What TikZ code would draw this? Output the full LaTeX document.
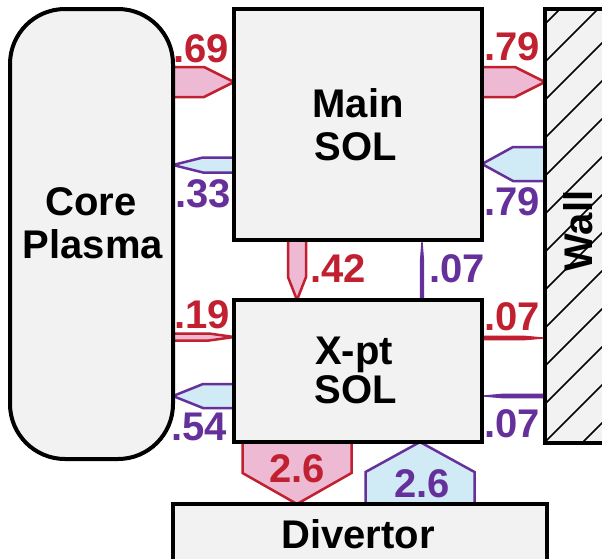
\documentclass[tikz,border=0pt]{standalone}
\usepackage{fontspec}
\setmainfont{Liberation Sans}
\usetikzlibrary{calc}
\definecolor{redc}{HTML}{C0202F}
\definecolor{pinkf}{HTML}{EDB9D3}
\definecolor{purc}{HTML}{66309A}
\definecolor{cyanf}{HTML}{D0EAF6}
\definecolor{boxf}{HTML}{F2F2F2}
\pgfdeclarelayer{bg}
\pgfsetlayers{bg,main}
% style, from, to, half width, tip length
\newcommand\blockarrow[5]{%
  \coordinate (ba-s) at ($(#3)!#5!(#2)$);
  \draw[#1] ($(#2)!#4!90:(#3)$) -- ($(ba-s)!#4!90:(#3)$) -- (#3)
    -- ($(ba-s)!#4!-90:(#3)$) -- ($(#2)!#4!-90:(#3)$) -- cycle;}
\begin{document}
\begin{tikzpicture}[x=1pt,y=-1pt,
  box/.style={draw, line width=4pt, fill=boxf, inner sep=0pt, outer sep=0pt},
  txt/.style={font=\fontsize{40}{44}\selectfont\bfseries, inner sep=0pt, anchor=base},
  rtxt/.style={txt, text=redc},
  ptxt/.style={txt, text=purc},
  outarr/.style={draw=redc, fill=pinkf, line width=2.5pt, line join=miter},
  inarr/.style={draw=purc, fill=cyanf, line width=2.5pt, line join=miter},
  outline/.style={draw=redc, fill=redc, line width=1pt},
  inline/.style={draw=purc, fill=purc, line width=1pt}]
\useasboundingbox (0,0) rectangle (602,558);

% boxes
\node[box, rounded corners=55pt, minimum width=163pt, minimum height=450pt] (core) at (91.5,234) {};
\node[box, minimum width=248pt, minimum height=231pt] (main) at (358,124.5) {};
\node[box, minimum width=248pt, minimum height=142pt] (xpt) at (358,371) {};
\node[box, minimum width=80pt, minimum height=434pt] (wall) at (585,226) {};
\node[box, minimum width=374pt, minimum height=80pt] (div) at (360,544) {};

% wall hatching
\begin{scope}
  \clip (wall.north west) rectangle (wall.south east);
  \foreach \k in {-2,...,13}
    \draw[line width=1.5pt] (545,62+38*\k) -- ++(100,-100);
\end{scope}
\draw[line width=4pt] (wall.north west) rectangle (wall.south east);

% flows
\begin{pgfonlayer}{bg}
  \fill[white] (0,0) rectangle (602,558);
  \blockarrow{outarr}{core.east |- 0,82}{main.west |- 0,82}{15pt}{30pt}
  \blockarrow{inarr}{main.west |- 0,165}{core.east |- 0,165}{7.5pt}{30pt}
  \blockarrow{outarr}{main.east |- 0,82}{wall.west |- 0,82}{15pt}{30pt}
  \blockarrow{inarr}{wall.west |- 0,164}{main.east |- 0,164}{17pt}{31pt}
  \blockarrow{outarr}{main.south -| 297,0}{xpt.north -| 297,0}{9pt}{23pt}
  \blockarrow{inline}{xpt.north -| 422,0}{main.south -| 422,0}{1.6pt}{20pt}
  \blockarrow{outarr}{core.east |- 0,337}{xpt.west |- 0,337}{3.5pt}{25pt}
  \blockarrow{inarr}{xpt.west |- 0,396}{core.east |- 0,396}{12pt}{30pt}
  \blockarrow{outline}{xpt.east |- 0,338}{wall.west |- 0,338}{1.8pt}{20pt}
  \blockarrow{inline}{wall.west |- 0,396}{xpt.east |- 0,396}{1.8pt}{20pt}
  \blockarrow{outarr}{xpt.south -| 297,0}{div.north -| 297,0}{54.5pt}{31pt}
  \blockarrow{inarr}{div.north -| 420,0}{xpt.south -| 420,0}{54.5pt}{30pt}
\end{pgfonlayer}

% box texts
\node[txt] (tcore1) at (91,215) {Core};
\node[txt] (tcore2) at (93,258) {Plasma};
\node[txt] (tmain1) at (358,117) {Main};
\node[txt] (tmain2) at (356,160) {SOL};
\node[txt] (txpt1) at (354,364) {X-pt};
\node[txt] (txpt2) at (356,403) {SOL};
\node[txt] (tdiv) at (358,548) {Divertor};
\node[txt, rotate=90] (twall) at (592,231) {Wall};

% numbers
\node[rtxt] (n69) at (201,62) {.69};
\node[ptxt] (n33) at (203,207) {.33};
\node[rtxt] (n79a) at (512,60) {.79};
\node[ptxt] (n79b) at (512,215) {.79};
\node[rtxt] (n42) at (338,282) {.42};
\node[ptxt] (n07v) at (457,282) {.07};
\node[rtxt] (n19) at (202,328) {.19};
\node[ptxt] (n54) at (199,440) {.54};
\node[rtxt] (n07r) at (512,330) {.07};
\node[ptxt] (n07p) at (512,437) {.07};
\node[rtxt] (n26a) at (297,482) {2.6};
\node[ptxt] (n26b) at (422,497) {2.6};
\end{tikzpicture}
\end{document}
